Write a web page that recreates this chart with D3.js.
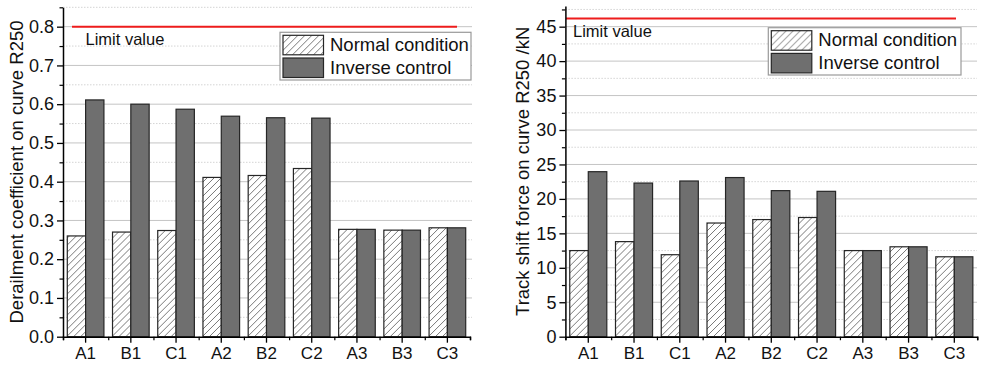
<!DOCTYPE html>
<html>
<head>
<meta charset="utf-8">
<script src="https://cdn.jsdelivr.net/npm/d3@7"></script>
<style>
  body { margin: 0; background: #fff; }
  svg { display: block; font-family: "Liberation Sans", Arial, sans-serif; }
</style>
</head>
<body>
<div id="drawing"></div>
<script>
// data
const categories = ["A1", "B1", "C1", "A2", "B2", "C2", "A3", "B3", "C3"];
const seriesNames = ["Normal condition", "Inverse control"];

const derailNormal  = [0.260, 0.270, 0.274, 0.411, 0.416, 0.434, 0.277, 0.275, 0.281];
const derailInverse = [0.611, 0.600, 0.587, 0.569, 0.565, 0.564, 0.277, 0.275, 0.281];
const derailLimit = 0.8;
const derailTicks = [0, 0.1, 0.2, 0.3, 0.4, 0.5, 0.6, 0.7, 0.8];

const shiftNormal  = [12.5, 13.8, 11.9, 16.5, 17.0, 17.3, 12.5, 13.05, 11.6];
const shiftInverse = [23.95, 22.3, 22.6, 23.1, 21.2, 21.1, 12.5, 13.05, 11.6];
const shiftLimit = 46.2;
const shiftTicks = [0, 5, 10, 15, 20, 25, 30, 35, 40, 45];

const width = 983;
const height = 368;

const svg = d3.select("#drawing").append("svg")
  .attr("width", width)
  .attr("height", height);

// hatch pattern for the "normal condition" bars
const defs = svg.append("defs");
const hatch = defs.append("pattern")
  .attr("id", "hatch")
  .attr("patternUnits", "userSpaceOnUse")
  .attr("width", 7)
  .attr("height", 7);
hatch.append("rect").attr("width", 7).attr("height", 7).attr("fill", "#fff");
hatch.append("path")
  .attr("d", "M0,7 L7,0 M-1,1 L1,-1 M6,8 L8,6")
  .attr("stroke", "#555")
  .attr("stroke-width", 0.8);

function drawPanel(p) {
  const g = svg.append("g");

  const x = d3.scaleBand()
    .domain(categories)
    .range([p.x0, p.x1])
    .paddingInner(0.19)
    .paddingOuter(0.095);
  const xs = d3.scaleBand()
    .domain([0, 1])
    .range([0, x.bandwidth()]);
  const xEdge = d3.scaleLinear().domain([0, categories.length]).range([p.x0, p.x1]);
  const y = d3.scaleLinear().domain([0, p.yMax]).range([p.y0, p.yTop]);

  // grid lines
  const minors = d3.range(p.minorStep, p.yMax + 1e-9, p.minorStep)
    .filter(v => !p.ticks.some(t => Math.abs(t - v) < 1e-9));
  g.append("g").selectAll("line").data(minors).join("line")
    .attr("x1", p.x0).attr("x2", p.gridEnd)
    .attr("y1", d => y(d)).attr("y2", d => y(d))
    .attr("stroke", "#d4d4d4")
    .attr("stroke-dasharray", "1.5,1.5")
    .attr("stroke-width", 1);
  g.append("g").selectAll("line").data(p.ticks.filter(t => t > 0)).join("line")
    .attr("x1", p.x0).attr("x2", p.gridEnd)
    .attr("y1", d => y(d)).attr("y2", d => y(d))
    .attr("stroke", "#c4c4c4")
    .attr("stroke-width", 1);

  // bars
  const rows = categories.map((c, i) => ({c, vals: [p.normal[i], p.inverse[i]]}));
  const grp = g.append("g").selectAll("g").data(rows).join("g")
    .attr("transform", d => `translate(${x(d.c)},0)`);
  grp.selectAll("rect").data(d => d.vals.map((v, k) => ({v, k}))).join("rect")
    .attr("x", d => xs(d.k))
    .attr("width", xs.bandwidth())
    .attr("y", d => y(d.v))
    .attr("height", d => y(0) - y(d.v))
    .attr("fill", d => d.k === 0 ? "url(#hatch)" : "#6f6f6f")
    .attr("stroke", "#262626")
    .attr("stroke-width", 1.2);

  // limit line
  g.append("line")
    .attr("x1", p.redStart).attr("x2", p.redEnd)
    .attr("y1", y(p.limit)).attr("y2", y(p.limit))
    .attr("stroke", "#ee1c1c")
    .attr("stroke-width", 2);
  g.append("text")
    .attr("x", p.limitLabelX)
    .attr("y", y(p.limit) + p.limitLabelDy)
    .attr("font-size", 16.5)
    .attr("fill", "#111")
    .text("Limit value");

  // y axis
  const yAxisMinor = g.append("g")
    .attr("transform", `translate(${p.x0},0)`)
    .call(d3.axisLeft(y).tickValues(minors).tickSize(3.5).tickFormat(""));
  yAxisMinor.select(".domain").remove();
  yAxisMinor.selectAll("line").attr("stroke", "#000").attr("stroke-width", 1.2);

  const yAxis = g.append("g")
    .attr("transform", `translate(${p.x0},0)`)
    .call(d3.axisLeft(y).tickValues(p.ticks).tickSize(6).tickPadding(3).tickFormat(p.fmt).tickSizeOuter(0));
  yAxis.select(".domain").attr("stroke-width", 1.5);
  yAxis.selectAll("line").attr("stroke-width", 1.3);
  yAxis.selectAll("text").attr("font-size", 18).attr("fill", "#111")
    .attr("font-family", "'Liberation Sans', Arial, sans-serif");

  // x axis
  const xAxisMinor = g.append("g")
    .attr("transform", `translate(0,${p.y0})`)
    .call(d3.axisBottom(xEdge).tickValues(d3.range(0, categories.length + 1)).tickSize(3.5).tickFormat(""));
  xAxisMinor.select(".domain").attr("stroke-width", 1.5);
  xAxisMinor.selectAll("line").attr("stroke-width", 1.2);

  const xAxis = g.append("g")
    .attr("transform", `translate(0,${p.y0})`)
    .call(d3.axisBottom(x).tickSize(6).tickPadding(4).tickSizeOuter(0));
  xAxis.select(".domain").remove();
  xAxis.selectAll("line").attr("stroke-width", 1.3);
  xAxis.selectAll("text").attr("font-size", 17).attr("fill", "#111")
    .attr("font-family", "'Liberation Sans', Arial, sans-serif");

  // axis title
  g.append("text")
    .attr("transform", `translate(${p.titleX},${(p.y0 + p.yTop) / 2 + p.titleDy}) rotate(-90)`)
    .attr("text-anchor", "middle")
    .attr("font-size", 18.5)
    .attr("fill", "#111")
    .text(p.title);

  // legend
  const lg = g.append("g").attr("transform", `translate(${p.legX},${p.legY})`);
  lg.append("rect")
    .attr("width", p.legW).attr("height", p.legH)
    .attr("fill", "#fff")
    .attr("stroke", "#9a9a9a")
    .attr("stroke-width", 1.2);
  seriesNames.forEach((name, k) => {
    lg.append("rect")
      .attr("x", 3).attr("y", 3 + k * 22.7)
      .attr("width", 40.5).attr("height", 19.5)
      .attr("fill", k === 0 ? "url(#hatch)" : "#6f6f6f")
      .attr("stroke", "#262626")
      .attr("stroke-width", 1.2);
    lg.append("text")
      .attr("x", 50).attr("y", 18.8 + k * 22.7)
      .attr("font-size", 18.5)
      .attr("fill", "#111")
      .text(name);
  });
}

drawPanel({
  x0: 63, x1: 470, gridEnd: 472, y0: 336.7, yTop: 7.3, yMax: 0.85,
  ticks: derailTicks, minorStep: 0.05, fmt: d3.format(".1f"),
  normal: derailNormal, inverse: derailInverse,
  limit: derailLimit, redStart: 72, redEnd: 457, limitLabelX: 85.5, limitLabelDy: 18.3,
  title: "Derailment coefficient on curve R250", titleX: 22.5, titleDy: 0,
  legX: 280, legY: 32.3, legW: 191, legH: 47.7
});

drawPanel({
  x0: 565.4, x1: 977.2, gridEnd: 977, y0: 336.7, yTop: 6, yMax: 48,
  ticks: shiftTicks, minorStep: 2.5, fmt: d3.format("d"),
  normal: shiftNormal, inverse: shiftInverse,
  limit: shiftLimit, redStart: 566, redEnd: 956, limitLabelX: 573, limitLabelDy: 19,
  title: "Track shift force on curve R250 /kN", titleX: 529, titleDy: 0,
  legX: 768.3, legY: 27.7, legW: 192.7, legH: 47.3
});
</script>
</body>
</html>
